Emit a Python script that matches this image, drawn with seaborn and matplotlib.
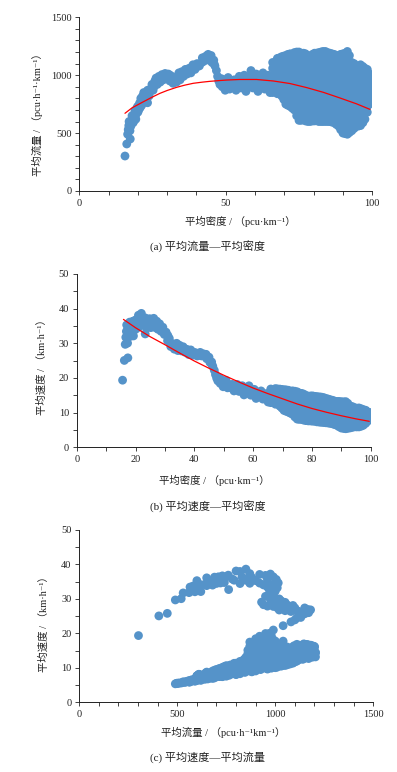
import numpy as np
import pandas as pd
import matplotlib
matplotlib.use("Agg")
import matplotlib.pyplot as plt
import seaborn as sns
from matplotlib.ticker import MultipleLocator

# ---- data: (density pcu/km, flow pcu/h/km) ----
# free flow, low density start
free_pts = [(15.6, 302), (16.2, 406), (17.4, 449),
            (16.5, 490), (16.7, 530), (16.9, 565), (17.0, 600), (17.3, 520),
            (17.6, 560), (17.8, 610), (18.0, 650), (18.4, 590), (18.7, 640),
            (19.0, 690), (19.3, 620), (19.6, 680), (19.9, 730), (20.3, 700),
            (20.6, 760), (21.0, 800), (21.3, 740), (21.6, 820),
            (17.2, 580), (18.2, 620), (18.9, 660), (19.5, 710), (20.0, 680),
            (20.8, 720), (21.8, 780), (20.5, 740), (19.2, 650), (18.5, 600)]

# rising band up to the capacity peak
band_pts = [(22.0, 850), (22.3, 790), (22.8, 830), (23.3, 870), (23.3, 762),
            (23.8, 820), (24.3, 880), (24.8, 920), (25.2, 870), (25.8, 950),
            (26.2, 975), (26.6, 920), (27.2, 990), (27.6, 940), (28.2, 1005),
            (28.7, 960), (29.3, 1015), (29.8, 970), (30.4, 1010), (30.9, 950),
            (31.5, 990), (32.0, 930), (32.6, 975), (33.2, 940), (33.8, 1000),
            (34.4, 960), (35.0, 1030), (35.6, 990), (36.2, 1050), (36.8, 1010),
            (37.5, 1060), (38.1, 1020), (38.8, 1090), (39.5, 1050), (40.2, 1100),
            (41.0, 1080), (41.8, 1110), (42.5, 1120), (43.0, 1160), (43.6, 1170),
            (44.2, 1130), (44.8, 1150), (45.3, 1110), (45.9, 1130), (46.3, 1080),
            (46.8, 1040), (47.2, 990), (47.6, 950), (48.0, 920), (48.5, 970),
            (24.0, 850), (25.5, 900), (27.0, 960), (29.0, 990), (31.0, 1000),
            (34.0, 1020), (37.0, 1040), (40.0, 1070), (42.0, 1150), (44.0, 1180),
            (45.0, 1170), (46.0, 1100)]

# plateau after the drop
plateau_pts = [(48.8, 900), (49.3, 960), (49.8, 870), (50.3, 930), (50.8, 980),
               (51.3, 880), (51.8, 940), (52.4, 900), (52.9, 960), (53.5, 870),
               (54.0, 930), (54.6, 990), (55.2, 890), (55.8, 950), (56.3, 1000),
               (56.9, 860), (57.4, 920), (58.0, 980), (58.6, 1040), (59.2, 890),
               (59.8, 950), (60.4, 1010), (61.0, 860), (61.5, 920), (62.1, 980),
               (62.7, 1020), (63.3, 880), (63.9, 940), (64.5, 1000), (65.1, 850),
               (65.6, 910)]

# congested cloud, one density column with its flows
jam_cols = [
    (66.0, [850, 905, 985, 1060, 1110]),
    (66.8, [870, 945, 1025, 1095]),
    (67.6, [840, 880, 960, 1040, 1120, 1145]),
    (68.3, [860, 920, 1000, 1080, 1150]),
    (69.1, [820, 870, 925, 1005, 1085, 1160]),
    (69.8, [790, 845, 895, 965, 1045, 1125, 1165]),
    (70.5, [750, 800, 865, 945, 1030, 1110, 1170]),
    (71.2, [740, 770, 830, 905, 985, 1070, 1140, 1180]),
    (72.0, [730, 790, 845, 910, 990, 1070, 1150, 1185]),
    (72.7, [715, 760, 815, 875, 950, 1030, 1110, 1175]),
    (73.4, [700, 760, 820, 895, 975, 1050, 1125, 1195]),
    (74.2, [650, 690, 730, 785, 855, 935, 1010, 1090, 1165, 1200]),
    (75.0, [610, 680, 745, 830, 915, 1000, 1085, 1160, 1200]),
    (75.7, [610, 645, 710, 785, 870, 955, 1040, 1120, 1185]),
    (76.5, [615, 650, 720, 800, 880, 960, 1040, 1120, 1190]),
    (77.2, [605, 685, 760, 840, 920, 1000, 1080, 1155, 1185]),
    (78.0, [600, 665, 735, 815, 900, 985, 1065, 1140, 1170]),
    (78.8, [600, 700, 775, 855, 940, 1025, 1100, 1160]),
    (79.6, [605, 640, 700, 780, 860, 940, 1020, 1100, 1180]),
    (80.3, [605, 660, 740, 820, 900, 980, 1060, 1140, 1190]),
    (81.0, [610, 680, 760, 845, 925, 1005, 1090, 1150, 1190]),
    (81.7, [600, 645, 720, 800, 885, 965, 1050, 1120, 1195]),
    (82.5, [600, 655, 725, 800, 880, 965, 1045, 1125, 1200]),
    (83.2, [600, 690, 765, 840, 920, 1005, 1085, 1165, 1205]),
    (84.0, [600, 635, 705, 785, 870, 950, 1030, 1110, 1170, 1205]),
    (84.8, [600, 670, 745, 825, 910, 990, 1070, 1150, 1195]),
    (85.5, [600, 670, 750, 835, 915, 995, 1075, 1150, 1190]),
    (86.2, [595, 630, 710, 790, 875, 955, 1035, 1110, 1185]),
    (87.0, [590, 650, 720, 805, 885, 970, 1050, 1130, 1180]),
    (87.7, [575, 610, 685, 760, 845, 925, 1010, 1090, 1170]),
    (88.5, [560, 625, 690, 770, 850, 935, 1015, 1095, 1170]),
    (89.2, [530, 590, 655, 725, 810, 890, 975, 1055, 1130, 1180]),
    (90.0, [500, 545, 610, 680, 760, 845, 925, 1005, 1085, 1150, 1185]),
    (90.8, [495, 510, 575, 645, 720, 800, 885, 965, 1045, 1120, 1190]),
    (91.5, [490, 530, 595, 665, 740, 820, 900, 985, 1065, 1140, 1205]),
    (92.2, [505, 560, 630, 700, 780, 860, 940, 1025, 1105, 1170]),
    (93.0, [520, 575, 650, 730, 810, 890, 970, 1050, 1110]),
    (93.8, [540, 600, 675, 755, 835, 915, 995, 1070, 1100]),
    (94.5, [560, 620, 700, 780, 860, 940, 1020, 1080]),
    (95.2, [560, 600, 665, 740, 820, 900, 980, 1050, 1075]),
    (96.0, [565, 640, 715, 795, 875, 955, 1030, 1065, 1090]),
    (96.8, [590, 655, 730, 805, 885, 965, 1040, 1075]),
    (97.5, [620, 690, 765, 845, 925, 1000, 1060]),
    (98.3, [680, 730, 800, 880, 960, 1030, 1050]),
    (99.0, [750, 820, 900, 980, 1010]),
    (99.6, [800, 880, 960, 1000]),
]

# fitted curves
fit_a_density = [15.6, 18, 21.9, 25, 27.5, 30, 33.2, 36, 38.9, 42, 44.6, 48,
                 50.3, 54.8, 60.5, 66.2, 71.9, 77.6, 83.3, 89, 94.7, 99.2]
fit_a_flow = [671, 718, 771, 812, 843, 868, 895, 914, 930, 940, 947, 954,
              958, 963, 963, 950, 928, 893, 852, 803, 752, 705]
fit_b_density = [15.9, 20, 25, 30, 35, 40, 45, 50, 55, 60, 65, 70, 75, 80, 85, 90, 95, 99.5]
fit_b_speed = [36.9, 34.5, 31.9, 29.6, 27.2, 24.9, 22.8, 20.8, 18.9, 17.1,
               15.5, 14.0, 12.5, 11.2, 10.1, 9.1, 8.2, 7.5]

rows = free_pts + band_pts + plateau_pts
rows += [(k, q) for k, flows in jam_cols for q in flows]
df = pd.DataFrame(rows, columns=["density", "flow"])
df["speed"] = df["flow"] / df["density"]

# ---- styling ----
sns.set_style("ticks")
plt.rcParams["font.family"] = ["Liberation Serif", "DejaVu Serif", "Noto Sans CJK SC"]
BLUE = "#5593c9"
TXT = "#222222"
FS = 7.5
MS = 40

fig = plt.figure(figsize=(3.97, 7.72), dpi=100)
fig.patch.set_facecolor("white")


def px(x, y):
    return x / 397, 1 - y / 772


def style_axis(ax, xmax, xmaj, xmin, ymax, ymaj, ymin):
    ax.set_xlim(0, xmax)
    ax.set_ylim(0, ymax)
    ax.xaxis.set_major_locator(MultipleLocator(xmaj))
    ax.xaxis.set_minor_locator(MultipleLocator(xmin))
    ax.yaxis.set_major_locator(MultipleLocator(ymaj))
    ax.yaxis.set_minor_locator(MultipleLocator(ymin))
    ax.tick_params(which="both", direction="out", length=2.6, width=0.6,
                   color="#222222", labelsize=FS, labelcolor=TXT, pad=3)
    ax.set_xlabel("")
    ax.set_ylabel("")
    sns.despine(ax=ax)
    for sp in ["left", "bottom"]:
        ax.spines[sp].set_linewidth(0.7)
        ax.spines[sp].set_color("#222222")


# (a) flow vs density
ax_a = fig.add_axes([0.1997, 0.7526, 0.738, 0.225])
sns.scatterplot(data=df, x="density", y="flow", ax=ax_a, s=MS, color=BLUE,
                edgecolor="none", linewidth=0, alpha=1)
sns.lineplot(x=fit_a_density, y=fit_a_flow, ax=ax_a, color="red", lw=0.9)
style_axis(ax_a, 100, 50, 10, 1500, 500, 100)

# (b) speed vs density
ax_b = fig.add_axes([0.1932, 0.4206, 0.7406, 0.2245])
sns.scatterplot(data=df, x="density", y="speed", ax=ax_b, s=MS, color=BLUE,
                edgecolor="none", linewidth=0, alpha=1)
sns.lineplot(x=fit_b_density, y=fit_b_speed, ax=ax_b, color="red", lw=0.9)
style_axis(ax_b, 100, 20, 10, 50, 10, 5)

# (c) speed vs flow
ax_c = fig.add_axes([0.1997, 0.0903, 0.7406, 0.2232])
sns.scatterplot(data=df, x="flow", y="speed", ax=ax_c, s=MS, color=BLUE,
                edgecolor="none", linewidth=0, alpha=1)
style_axis(ax_c, 1500, 500, 100, 50, 10, 5)

# labels and captions
fig.text(*px(240, 221), "平均密度 / （pcu·km⁻¹）", ha="center", va="center", fontsize=FS, color=TXT)
fig.text(*px(37.5, 112), "平均流量 / （pcu·h⁻¹·km⁻¹）", ha="center", va="center",
         rotation=90, fontsize=FS, color=TXT)
fig.text(*px(207.5, 247), "(a) 平均流量—平均密度", ha="center", va="center", fontsize=8, color=TXT)

fig.text(*px(214, 480), "平均密度 / （pcu·km⁻¹）", ha="center", va="center", fontsize=FS, color=TXT)
fig.text(*px(41.7, 365), "平均速度 / （km·h⁻¹）", ha="center", va="center",
         rotation=90, fontsize=FS, color=TXT)
fig.text(*px(207.5, 506.7), "(b) 平均速度—平均密度", ha="center", va="center", fontsize=8, color=TXT)

fig.text(*px(223, 732.7), "平均流量 / （pcu·h⁻¹km⁻¹）", ha="center", va="center", fontsize=FS, color=TXT)
fig.text(*px(43.3, 622), "平均速度 / （km·h⁻¹）", ha="center", va="center",
         rotation=90, fontsize=FS, color=TXT)
fig.text(*px(208, 757), "(c) 平均速度—平均流量", ha="center", va="center", fontsize=8, color=TXT)

fig.savefig("out.png", dpi=100, facecolor="white")
